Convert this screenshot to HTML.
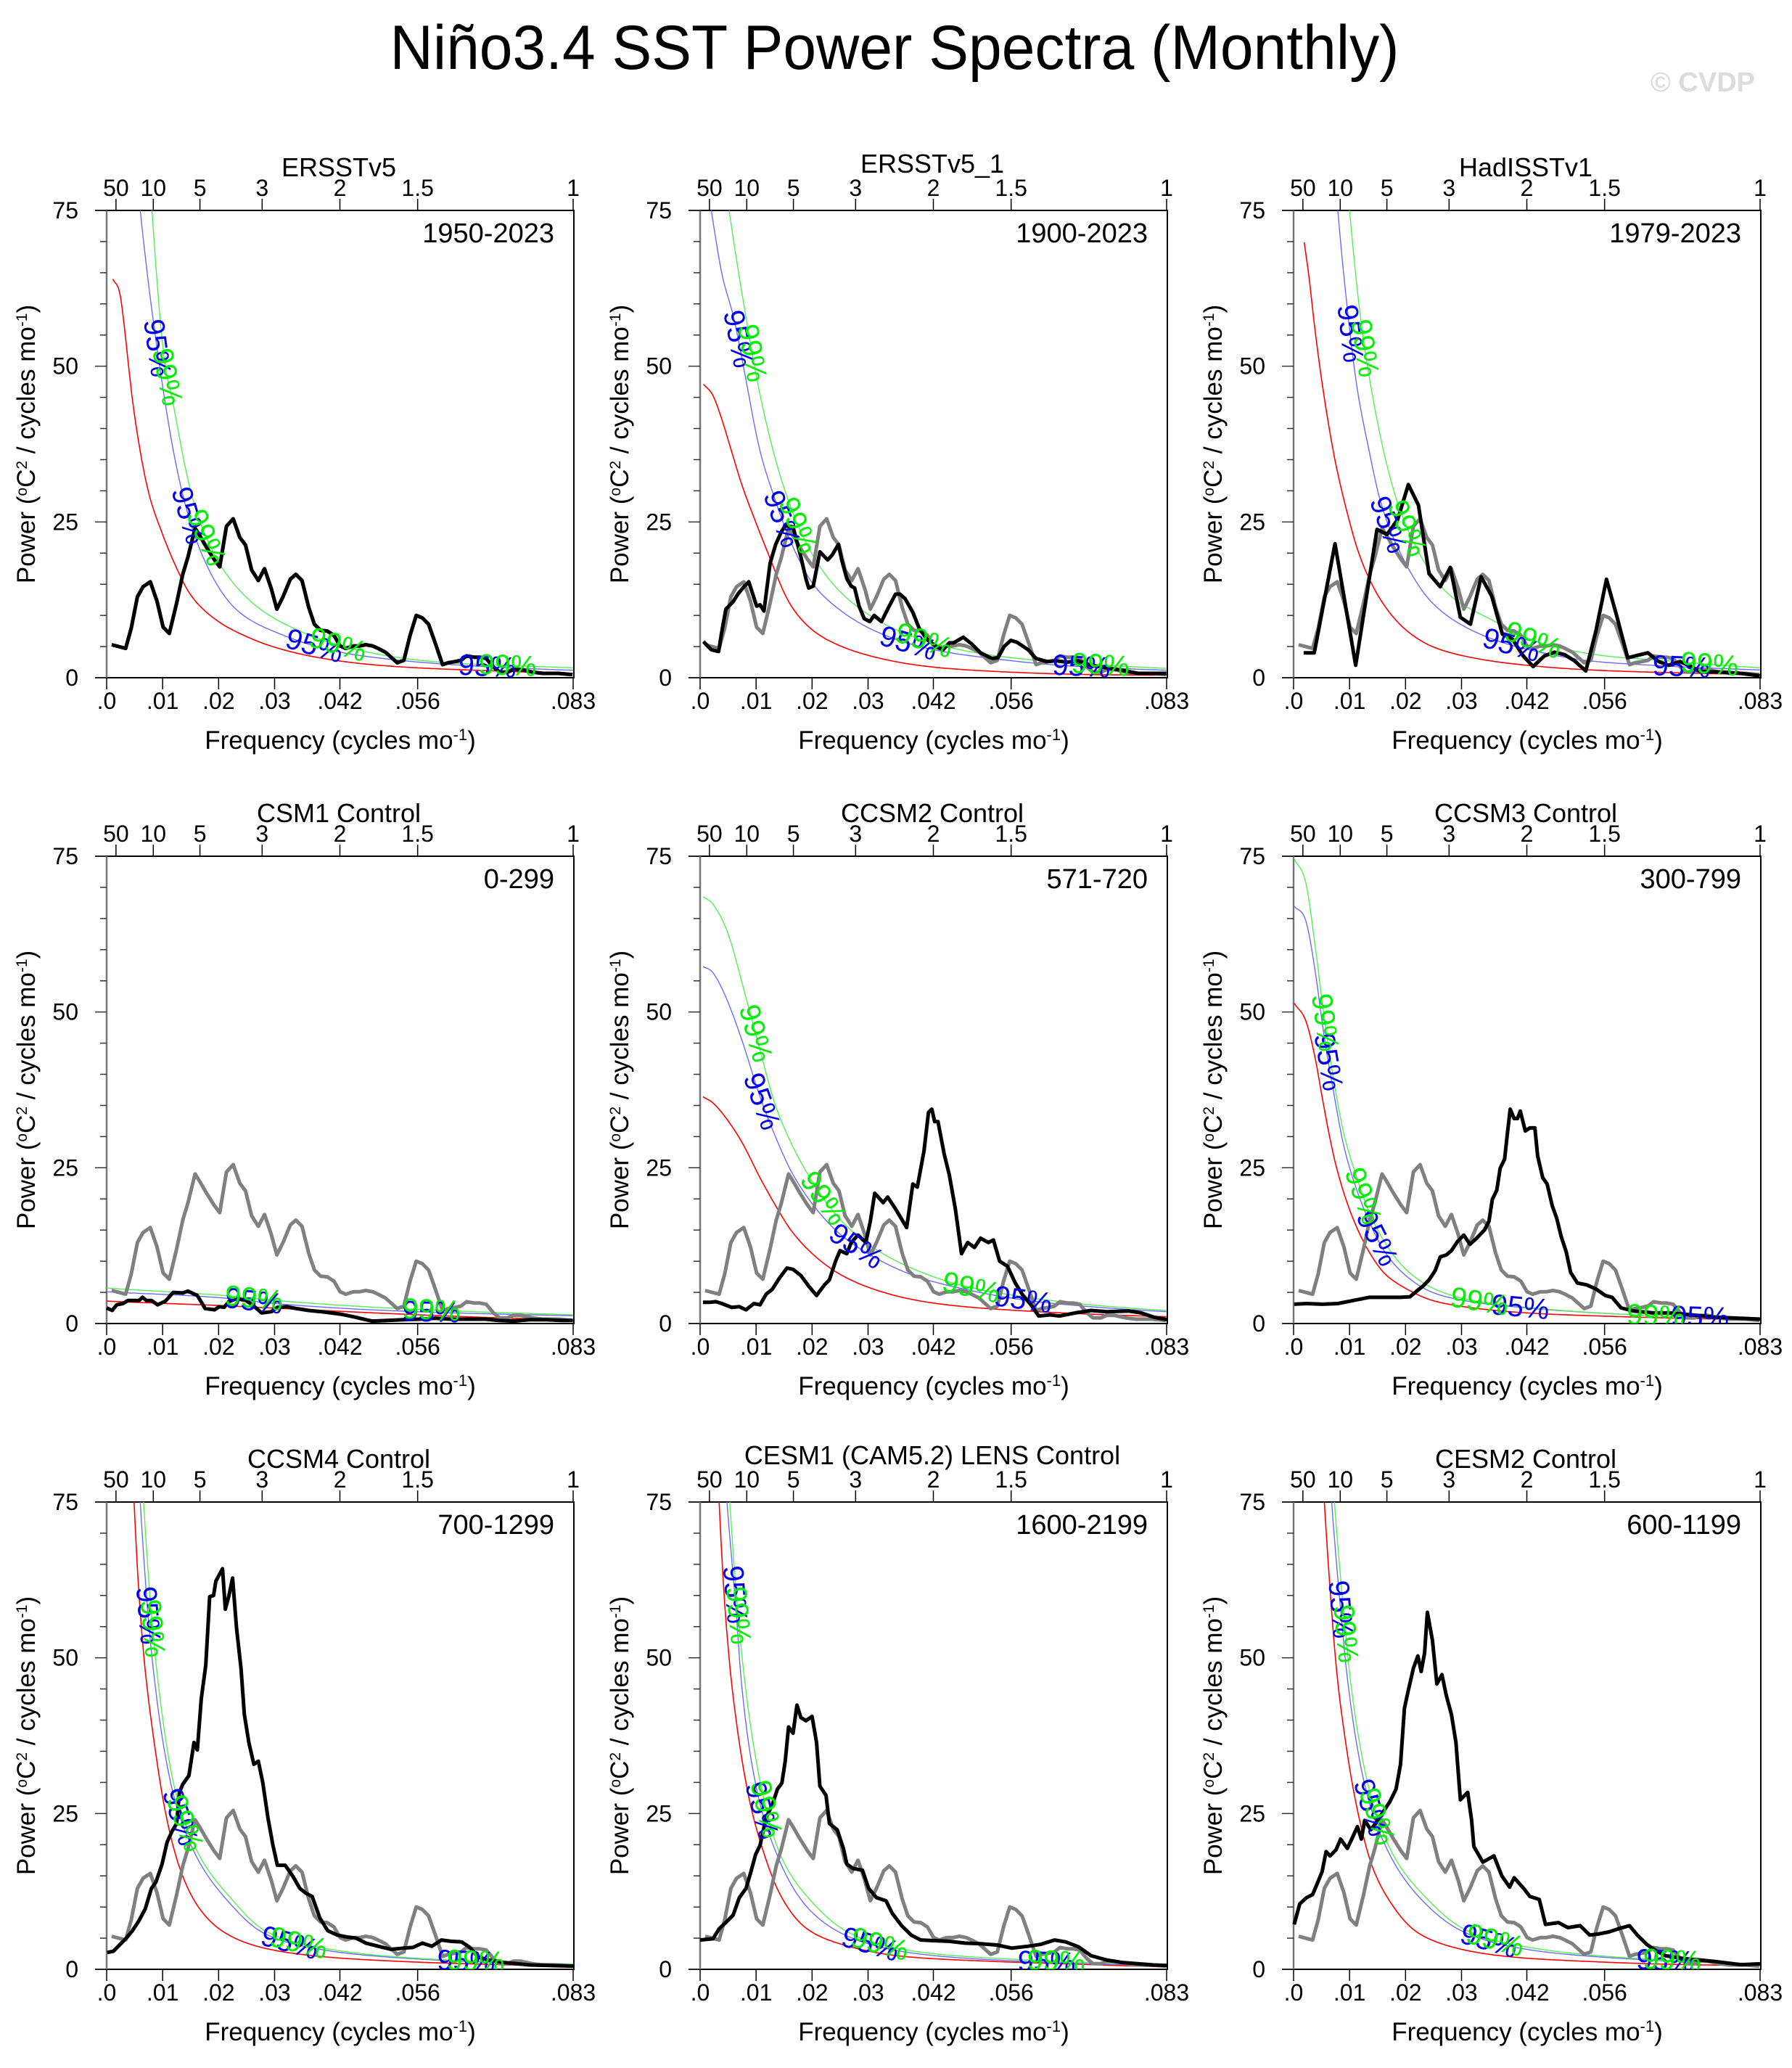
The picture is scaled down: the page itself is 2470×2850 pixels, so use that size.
<!DOCTYPE html>
<html><head><meta charset="utf-8"><title>Niño3.4 SST Power Spectra</title>
<style>html,body{margin:0;padding:0;background:#fff}svg{display:block;font-family:"Liberation Sans",Arial,sans-serif}</style>
</head><body>
<svg id="chart" width="2470" height="2850" viewBox="0 0 2470 2850" xmlns="http://www.w3.org/2000/svg">
<rect x="0" y="0" width="2470" height="2850" fill="#fff"/>
<text x="1233" y="95" font-size="86" text-anchor="middle" textLength="1391" lengthAdjust="spacingAndGlyphs" fill="#000">Niño3.4 SST Power Spectra (Monthly)</text>
<text x="2419" y="126" font-size="38" font-weight="bold" text-anchor="end" fill="#dcdcdc">© CVDP</text>
</svg>
<script>
// ---- Observed ERSSTv5 (gray reference, also panel 1 black) ----
const obsFreq = [.0009,.0034,.0044,.0055,.0065,.0078,.0090,.0101,.0112,.0125,.0136,.0145,.0158,.0167,.0178,.0192,.0202,.0214,.0226,.0238,.0248,.0259,.0271,.0282,.0294,.0304,.0315,.0328,.0338,.0349,.0361,.0371,.0382,.0394,.0406,.0417,.0427,.0441,.0452,.0463,.0475,.0485,.0498,.0508,.0519,.0531,.0542,.0553,.0564,.0575,.0588,.0600,.0610,.0623,.0633,.0643,.0656,.0666,.0678,.0691,.0702,.0716,.0726,.0740,.0761,.0779,.0807,.0832];
const obsPow = [5.3,4.7,8.0,13.0,14.6,15.4,12.3,8.1,7.1,12.0,16.6,19.3,24.0,22.7,21.0,19.0,17.8,24.3,25.5,22.5,21.3,17.3,15.6,17.5,14.3,11.0,13.0,15.8,16.6,15.6,11.3,8.6,7.6,7.5,6.8,5.1,4.7,5.1,5.1,5.3,5.1,4.7,4.1,3.3,2.4,2.8,6.8,10.0,9.6,8.6,5.3,2.1,2.4,2.6,2.8,3.5,3.3,3.3,3.1,1.7,0.9,0.9,1.3,1.3,0.9,0.7,0.7,0.5];
const p1RedF = [.0011,.0025,.005,.0075,.01,.0125,.015,.02,.025,.03,.04,.05,.06,.07,.0833];
const p1Red = [64,61,42,29.7,23,17.6,13.3,9,6.6,4.9,2.9,1.9,1.4,1.07,0.7];
const p1BlueF = [.006,.0094,.0139,.0174,.0231,.0322,.0406,.0512,.0653,.0833];
const p1Blue = [75,50.4,28.3,19,11,6.6,4.3,2.9,1.9,1.2];
const p1GreenF = [.0081,.0104,.0118,.0157,.0202,.0266,.035,.0456,.0582,.0833];
const p1Green = [75,50.4,44.4,27.7,18.3,11.6,7.3,4.3,2.6,1.6];

// ---- Panel 2 ERSSTv5_1 ----
const p2Freq = [.0006,.002,.0033,.0038,.0046,.0059,.0068,.0079,.0087,.0101,.0107,.0114,.0125,.0135,.0145,.0152,.0166,.018,.0189,.0194,.0202,.0214,.0228,.0236,.0247,.0253,.0262,.027,.0276,.0284,.0293,.0303,.0311,.0324,.0335,.0349,.0357,.0366,.038,.0391,.0405,.0422,.0434,.0445,.0453,.047,.0484,.0501,.0521,.0532,.0543,.0555,.0566,.0586,.06,.0619,.0636,.0656,.0675,.0698,.0726,.0754,.0782,.0833];
const p2Pow = [5.8,4.5,4.2,7.0,11.0,12.2,13.5,14.7,15.4,11.5,11.7,10.7,18.4,21.4,23.4,24.4,24.2,19.4,15.9,14.4,14.7,20.2,18.9,19.7,21.4,18.9,15.9,14.7,14.4,11.5,9.5,9.0,10.0,9.0,11.0,13.4,13.4,12.7,10.5,8.0,6.2,5.0,4.5,5.6,5.6,6.5,5.5,4.0,3.1,3.2,5.0,6.0,5.7,4.5,3.1,2.6,2.7,2.5,2.7,2.0,1.6,1.2,0.7,0.7];
const p2RedF = [.0006,.0023,.0039,.0056,.0073,.0104,.0127,.0163,.0203,.0248,.0304,.0417,.053,.07,.0833];
const p2Red = [47.1,45.3,41.4,36.4,31.4,23.9,18.7,11.5,7.5,5.2,3.5,1.7,1.0,0.5,0.4];
const p2BlueF = [.002,.0039,.0062,.0084,.0107,.0132,.0169,.0203,.0248,.032,.0417,.053,.0642,.0833];
const p2Blue = [75,64.8,57,46.8,36.4,29.1,20.4,14.9,11,7.2,4.5,3.0,2.0,1.2];
const p2GreenF = [.0052,.0084,.0104,.0155,.0203,.0248,.0332,.0417,.053,.0642,.0833];
const p2Green = [75,56.8,46.8,29.1,19.4,14,8.5,5.5,3.5,2.5,1.5];

// ---- Panel 3 HadISSTv1 ----
const p3Freq = [.0018,.0037,.0074,.0111,.0149,.0167,.0186,.0205,.0223,.0242,.0262,.028,.0298,.0316,.0335,.0354,.0373,.0391,.041,.0428,.0448,.0466,.0484,.0502,.0522,.054,.0559,.0577,.0597,.0615,.0633,.0652,.067,.069,.0708,.0726,.0766,.0799,.0833];
const p3Pow = [4.0,4.0,21.5,2.0,23.8,23.0,25.4,31.0,27.7,16.7,14.6,17.7,9.7,8.6,16.2,13.1,7.0,6.2,3.5,1.8,3.5,4.1,3.7,2.7,1.1,7.5,15.8,10.0,3.2,3.6,4.0,2.6,2.0,2.6,1.9,1.0,0.9,0.7,0.3];
const p3RedF = [.0019,.0028,.0039,.0056,.0073,.0096,.0115,.0135,.0163,.0203,.0248,.0332,.0428,.053,.07,.0833];
const p3Red = [69.9,64,55.3,44.3,35.4,26.4,20.4,15.9,11.5,7.5,5.0,3.0,1.9,1.25,0.75,0.5];
const p3BlueF = [.0079,.0099,.0113,.0135,.0155,.0203,.0248,.0341,.0445,.053,.064,.0833];
const p3Blue = [75,56.8,46.8,36.4,28.4,17.9,12,6.7,4.0,2.7,2.0,1.25];
const p3GreenF = [.01,.0121,.0138,.0183,.0228,.0276,.036,.0445,.0557,.067,.0833];
const p3Green = [75,56.8,46.8,28.9,19.4,13.5,9.0,5.5,3.5,2.7,1.6];

// ---- Panel 4 CSM1 Control ----
const p4Freq = [0,.001,.0018,.0029,.0038,.0058,.0064,.0071,.008,.0091,.0105,.0119,.0136,.0145,.0162,.0176,.0193,.0201,.021,.0218,.0232,.0249,.026,.0277,.0294,.0305,.0322,.0339,.0361,.0384,.0401,.0418,.044,.0474,.0502,.053,.0559,.0587,.0615,.0643,.0677,.07,.0728,.0756,.0784,.0812,.0833];
const p4Pow = [2.5,2.1,3.0,3.2,3.7,3.7,4.2,3.7,3.7,3.0,3.6,5.0,4.9,5.2,4.5,2.4,2.2,2.7,2.6,3.5,4.0,3.7,3.0,1.7,1.9,2.6,2.7,2.4,2.1,1.9,1.7,1.5,1.1,0.4,0.5,0.6,0.7,0.85,0.7,0.7,0.7,0.5,0.4,0.6,0.6,0.5,0.5];
const p4RedF = [0,.0248,.053,.0833];
const p4Red = [3.6,2.7,1.5,0.6];
const p4BlueF = [0,.0208,.0315,.0524,.0833];
const p4Blue = [5.1,4.1,3.1,2.0,1.25];
const p4GreenF = [0,.0208,.0315,.0524,.0833];
const p4Green = [5.7,4.5,3.6,2.4,1.4];

// ---- Panel 5 CCSM2 Control ----
const p5Freq = [.0005,.0017,.0028,.0039,.0056,.007,.0082,.0096,.0107,.0118,.0129,.0141,.0155,.0166,.018,.0194,.0208,.0222,.0231,.0242,.025,.0262,.027,.0282,.0296,.0304,.0312,.0327,.0335,.0349,.0369,.038,.0388,.04,.0408,.0414,.0419,.0425,.0436,.0445,.0456,.0467,.0478,.049,.0501,.0515,.0524,.0535,.0549,.0563,.0577,.0591,.0605,.0625,.0642,.067,.0698,.0726,.0766,.0788,.0811,.0836];
const p5Pow = [3.4,3.4,3.5,3.2,2.6,2.7,2.2,3.2,3.0,4.7,5.5,7.2,8.9,8.7,7.7,6.0,4.5,6.2,7.0,10.0,11.7,11.2,13.0,14.2,13.0,16.4,20.9,19.4,20.3,18.4,15.4,22.4,21.9,27.7,33.9,34.4,32.4,32.4,27.2,23.9,18.4,11.2,13.0,12.2,13.7,13.0,13.4,10.0,9.2,6.5,4.5,3.0,1.2,1.4,1.2,1.7,2.1,1.9,2.0,1.7,1.0,0.6];
const p5RedF = [.0005,.0023,.0051,.0079,.0107,.0135,.0163,.0203,.0248,.0304,.0388,.0473,.0585,.0698,.0833];
const p5Red = [36.4,35.4,32.4,28.4,23.4,18.9,14.9,11.0,8.0,5.7,3.7,2.7,2.0,1.5,1.1];
const p5BlueF = [.0005,.0023,.0051,.0079,.0107,.0135,.0163,.0203,.0248,.0304,.0388,.0473,.0585,.0698,.0833];
const p5Blue = [57.3,56.3,51.3,44.3,36.4,29.9,24.4,18.9,14.5,11.0,7.5,5.5,3.7,2.7,1.9];
const p5GreenF = [.0005,.0023,.0051,.0079,.0107,.0135,.0163,.0203,.0248,.0304,.0388,.0473,.0585,.0698,.0833];
const p5Green = [68.5,67.3,62.3,53.3,43.9,34.9,28.9,22.4,16.9,12.5,8.5,6.0,4.2,3.0,2.1];

// ---- Panel 6 CCSM3 Control ----
const p6Freq = [.0001,.0023,.0051,.0079,.0107,.0135,.0163,.0191,.0208,.022,.0231,.0242,.0253,.0262,.0273,.0282,.0293,.0304,.0315,.0327,.0341,.0349,.0355,.0363,.0369,.0377,.0382,.0387,.0394,.04,.0405,.0414,.0422,.0431,.0436,.0445,.0453,.0462,.047,.0478,.0487,.0495,.0507,.0524,.0541,.0557,.0569,.0585,.0608,.0642,.067,.0698,.0754,.0836];
const p6Pow = [3.1,3.2,3.1,3.2,3.7,4.2,4.2,4.2,4.3,5.2,6.0,7.0,8.5,10.7,11.0,11.7,13.2,14.2,12.7,13.7,15.0,16.4,19.9,21.4,24.9,26.4,30.6,34.4,32.9,32.9,34.1,30.9,31.4,31.4,26.9,23.4,22.4,18.9,16.9,14.0,11.5,8.2,6.5,6.2,5.5,4.5,4.2,2.5,2.0,1.7,1.7,1.5,1.0,0.7];
const p6RedF = [.0001,.0023,.0039,.0056,.0073,.009,.0113,.0135,.0163,.0203,.0248,.0304,.0417,.0585,.0833];
const p6Red = [51.4,48.3,42.4,33.9,26.4,20.9,15.4,11.5,8.0,5.5,3.7,2.7,1.7,1.1,0.6];
const p6BlueF = [.0001,.0023,.0039,.0056,.0073,.009,.0113,.0135,.0163,.0203,.0248,.0304,.0417,.0585,.0833];
const p6Blue = [67,64.3,56.3,45.3,36.4,28.4,21.4,16.4,11.5,7.5,5.0,3.7,2.5,1.5,0.75];
const p6GreenF = [.0001,.0023,.0039,.0056,.0073,.009,.0113,.0135,.0163,.0203,.0248,.0304,.0417,.0585,.0833];
const p6Green = [74.6,70.3,60.3,48.3,38.4,30.4,23.4,17.9,13.0,8.5,5.7,4.0,2.6,1.5,0.75];

// ---- Panel 7 CCSM4 Control ----
const p7Freq = [.0001,.0012,.0024,.0035,.0046,.0057,.0069,.008,.0088,.0099,.0108,.0117,.0125,.013,.0136,.0147,.0156,.0162,.0169,.0177,.0184,.0191,.0195,.0201,.0207,.0212,.0218,.0225,.0232,.024,.0246,.0254,.0263,.0271,.0279,.0288,.0297,.0305,.0319,.0333,.0345,.0356,.0367,.0381,.0395,.0412,.0429,.0446,.0463,.0485,.0508,.053,.0547,.0564,.0581,.0598,.0615,.0634,.0649,.0663,.0682,.071,.0756,.0836];
const p7Pow = [2.7,2.9,4.0,5.0,6.2,7.7,9.7,13.0,14.0,16.9,20.4,22.2,23.4,28.4,29.7,31.1,36.4,35.2,43.4,48.8,59.8,60.0,62.3,63.3,64.3,57.8,59.8,62.8,54.8,48.3,40.9,36.4,32.9,33.4,29.9,24.4,19.9,16.7,16.7,14.9,13.0,12.2,11.7,8.2,6.2,5.5,5.2,5.0,4.2,3.7,3.2,3.4,3.5,4.2,3.7,4.7,4.5,4.4,3.5,2.0,1.5,1.1,0.7,0.5];
const p7RedF = [.0049,.0057,.0068,.0085,.0108,.013,.0164,.0209,.0277,.039,.053,.07,.0833];
const p7Red = [75,61.3,48.8,36.4,23.9,16.4,10.0,6.0,3.5,2.0,1.25,0.75,0.5];
const p7BlueF = [.006,.0074,.0085,.0117,.0156,.0221,.0283,.0395,.0587,.0833];
const p7Blue = [75,56.8,46.8,28.9,18.9,10.5,5.7,3.0,1.5,0.75];
const p7GreenF = [.0066,.008,.0091,.0122,.0162,.0226,.0287,.04,.0587,.0833];
const p7Green = [75,56.8,46.8,28.9,18.9,11,6.0,3.2,1.6,0.85];

// ---- Panel 8 CESM1 LENS Control ----
const p8Freq = [0,.0023,.0034,.0048,.0059,.007,.0082,.009,.0099,.0107,.0118,.0129,.0138,.0146,.0152,.0158,.0166,.0173,.018,.0189,.02,.0208,.0214,.0225,.0231,.0245,.0256,.0262,.0273,.029,.0301,.0315,.0332,.0343,.036,.0377,.0394,.0417,.0445,.0473,.0501,.053,.0557,.0586,.0608,.0633,.0653,.0676,.0698,.0726,.0754,.081,.0836];
const p8Pow = [4.7,4.9,6.5,7.7,8.7,11.5,13.0,15.4,18.4,19.9,24.4,26.4,28.9,29.9,33.4,38.9,37.9,42.4,40.4,39.9,40.6,36.4,29.4,27.9,23.4,22.4,19.4,16.9,16.2,15.9,13.0,11.5,11.0,9.0,7.0,5.5,4.7,4.6,4.5,4.2,4.1,3.9,3.4,3.7,4.0,4.7,4.4,3.6,2.2,1.5,1.1,0.7,0.6];
const p8RedF = [.0034,.0042,.0053,.007,.009,.0113,.0146,.0191,.0265,.036,.053,.07,.0833];
const p8Red = [75,61.3,48.8,36.4,26.4,18.9,11.5,6.5,3.7,2.1,1.25,0.75,0.4];
const p8BlueF = [.0048,.0065,.0073,.0101,.0135,.0191,.0259,.0372,.0586,.0833];
const p8Blue = [75,56.8,46.8,28.9,18.9,10.0,5.5,2.7,1.25,0.6];
const p8GreenF = [.0053,.0068,.0079,.011,.0141,.0203,.027,.0383,.0586,.0833];
const p8Green = [75,56.8,46.8,28.9,18.9,10.5,5.7,2.9,1.5,0.75];

// ---- Panel 9 CESM2 Control ----
const p9Freq = [.0001,.0011,.0023,.0034,.0042,.0051,.0058,.0065,.0076,.0084,.0096,.0104,.0114,.0121,.0127,.0138,.0146,.0161,.0172,.0183,.0191,.0198,.0205,.0214,.0222,.0228,.0234,.0239,.0248,.0256,.0265,.0273,.0282,.029,.0298,.0311,.0318,.0322,.0338,.0358,.0372,.0386,.0394,.0411,.0422,.0439,.045,.0473,.049,.0512,.0529,.0546,.0563,.058,.06,.0614,.0631,.0647,.0664,.0698,.0726,.0754,.0799,.0836];
const p9Pow = [7.2,10.5,11.5,12.0,13.7,15.7,18.9,18.2,19.2,20.9,19.4,20.9,22.9,20.9,23.9,22.4,23.4,25.4,26.9,28.9,32.9,41.9,44.8,48.3,50.3,47.8,50.8,57.3,52.8,45.8,47.3,43.9,40.9,36.4,27.2,28.4,23.9,19.7,17.2,18.2,15.0,13.2,14.7,13.0,11.7,11.2,7.2,7.5,6.7,7.0,5.5,5.7,6.0,6.5,7.0,5.5,4.0,3.0,2.2,1.7,1.5,1.25,0.75,0.9];
const p9RedF = [.0055,.0065,.0076,.0093,.0118,.0141,.0175,.022,.0287,.0388,.053,.07,.0833];
const p9Red = [75,61.3,48.8,36.4,23.9,16.4,10.5,6.0,3.5,2.0,1.25,0.75,0.6];
const p9BlueF = [.0068,.0085,.0096,.0129,.0169,.0236,.0304,.0417,.0586,.0833];
const p9Blue = [75,56.8,46.8,28.9,18.9,10.5,6.0,3.2,1.75,0.85];
const p9GreenF = [.0073,.009,.0101,.0135,.0175,.0242,.031,.0422,.0586,.0833];
const p9Green = [75,56.8,46.8,28.9,18.9,11,6.2,3.5,1.9,0.9];

// ---- Axis tick definitions ----
const yTicks = [0,25,50,75];
const xTickVals = [0,0.01,0.02,0.03,1/24,1/18,1/12];
const xTickLabels = [".0",".01",".02",".03",".042",".056",".083"];
const periodTicks = [50,10,5,3,2,1.5,1];
const periodLabels = ["50","10","5","3","2","1.5","1"];

const panels = [
 {title:"ERSSTv5", years:"1950-2023", f:obsFreq, p:obsPow, rf:p1RedF, r:p1Red, bf:p1BlueF, b:p1Blue, gf:p1GreenF, g:p1Green, lb:[.009,.0146,.0371,.068], lg:[.0108,.0178,.0413,.0716]},
 {title:"ERSSTv5_1", years:"1900-2023", f:p2Freq, p:p2Pow, rf:p2RedF, r:p2Red, bf:p2BlueF, b:p2Blue, gf:p2GreenF, g:p2Green, lb:[.0068,.0146,.0372,.0681], lg:[.0093,.0175,.04,.0715], up:5},
 {title:"HadISSTv1", years:"1979-2023", f:p3Freq, p:p3Pow, rf:p3RedF, r:p3Red, bf:p3BlueF, b:p3Blue, gf:p3GreenF, g:p3Green, lb:[.0101,.0169,.0389,.0693], lg:[.0127,.0203,.0428,.0743]},
 {title:"CSM1 Control", years:"0-299", f:p4Freq, p:p4Pow, rf:p4RedF, r:p4Red, bf:p4BlueF, b:p4Blue, gf:p4GreenF, g:p4Green, lb:[.0263,.058], lg:[.0263,.058]},
 {title:"CCSM2 Control", years:"571-720", f:p5Freq, p:p5Pow, rf:p5RedF, r:p5Red, bf:p5BlueF, b:p5Blue, gf:p5GreenF, g:p5Green, lb:[.011,.0279,.0577], lg:[.0099,.022,.0484]},
 {title:"CCSM3 Control", years:"300-799", f:p6Freq, p:p6Pow, rf:p6RedF, r:p6Red, bf:p6BlueF, b:p6Blue, gf:p6GreenF, g:p6Green, lb:[.0062,.0149,.0405,.0726], lg:[.0056,.0124,.0332,.0647]},
 {title:"CCSM4 Control", years:"700-1299", f:p7Freq, p:p7Pow, rf:p7RedF, r:p7Red, bf:p7BlueF, b:p7Blue, gf:p7GreenF, g:p7Green, lb:[.0074,.0131,.0327,.0642], lg:[.0082,.014,.0343,.0659]},
 {title:"CESM1 (CAM5.2) LENS Control", years:"1600-2199", f:p8Freq, p:p8Pow, rf:p8RedF, r:p8Red, bf:p8BlueF, b:p8Blue, gf:p8GreenF, g:p8Green, lb:[.0062,.011,.0304,.0619], lg:[.0068,.0118,.0321,.0636], up:5},
 {title:"CESM2 Control", years:"600-1199", f:p9Freq, p:p9Pow, rf:p9RedF, r:p9Red, bf:p9BlueF, b:p9Blue, gf:p9GreenF, g:p9Green, lb:[.0084,.0138,.0349,.0664], lg:[.0093,.0149,.036,.0676]}
];

const NS = "http://www.w3.org/2000/svg";
const svg = document.getElementById("chart");
const W = 660, H = 644, XMAX = 1/12, YMAX = 75;
function mk(tag, attrs, parent){ const e=document.createElementNS(NS,tag); for(const k in attrs) e.setAttribute(k,attrs[k]); (parent||svg).appendChild(e); return e; }

// monotone cubic interpolation in log space
function smoothFn(F, V){
  const n=Math.min(F.length,V.length); const x=F.slice(0,n), y=V.slice(0,n).map(v=>Math.log(Math.max(v,0.01)));
  const d=[], m=new Array(n);
  for(let i=0;i<n-1;i++) d.push((y[i+1]-y[i])/(x[i+1]-x[i]));
  m[0]=d[0]; m[n-1]=d[n-2];
  for(let i=1;i<n-1;i++){ m[i]=(d[i-1]*d[i]<=0)?0:(d[i-1]+d[i])/2; }
  for(let i=0;i<n-1;i++){ if(d[i]===0){m[i]=0;m[i+1]=0;continue;} const a=m[i]/d[i], b=m[i+1]/d[i], s=a*a+b*b; if(s>9){const t=3/Math.sqrt(s); m[i]=t*a*d[i]; m[i+1]=t*b*d[i];} }
  return function(f){
    if(f<=x[0]) return Math.exp(y[0]); if(f>=x[n-1]) return Math.exp(y[n-1]);
    let i=0; while(i<n-2 && f>x[i+1]) i++;
    const h=x[i+1]-x[i], t=(f-x[i])/h, t2=t*t, t3=t2*t;
    const v=(2*t3-3*t2+1)*y[i]+(t3-2*t2+t)*h*m[i]+(-2*t3+3*t2)*y[i+1]+(t3-t2)*h*m[i+1];
    return Math.exp(v);
  };
}

panels.forEach((P, idx) => {
  const col = idx % 3, row = Math.floor(idx / 3);
  const L = 131 + 818*col, T = 290 + 890*row;
  const X0 = L + 16;
  const xs = f => X0 + f / XMAX * 643;
  const ys = v => T + H - v / YMAX * H;
  const g = mk("g", {});
  
  

  const cp = mk("clipPath", {id:"clip"+idx}, g);
  mk("rect", {x:L, y:T, width:W, height:H}, cp);

  const fr = mk("path", {d:`M${L},${T}H${L+W}V${T+H}H${L}`, fill:"none", stroke:"#000", "stroke-width":2}, g);
  
  
  const ya = mk("line", {x1:X0, y1:T, x2:X0, y2:T+H, stroke:"#777", "stroke-width":2.5}, g);
  
  

  for(let v=0; v<=75; v+=5){
    const major = yTicks.indexOf(v) >= 0;
    const t = mk("line", {x1: major?L:X0-9, y1:ys(v), x2:X0, y2:ys(v), stroke:"#333", "stroke-width":1.5}, g);
    
    
  }
  yTicks.forEach(v => {
    const t = mk("text", {x:L-23, y:ys(v)+11, "font-size":32, "text-anchor":"end", fill:"#000"}, g);
    t.textContent = String(v);
    
    
  });
  xTickVals.forEach((f,i) => {
    const t = mk("line", {x1:xs(f), y1:T+H, x2:xs(f), y2:T+H+16, stroke:"#000", "stroke-width":1.5}, g);
    
    
    const lb = mk("text", {x:xs(f), y:T+H+43, "font-size":32, "text-anchor":"middle", fill:"#000"}, g);
    lb.textContent = xTickLabels[i];
    
    
  });
  periodTicks.forEach((p,i) => {
    const f = 1/(12*p);
    const t = mk("line", {x1:xs(f), y1:T-16, x2:xs(f), y2:T, stroke:"#000", "stroke-width":1.5}, g);
    
    
    const lb = mk("text", {x:xs(f), y:T-20, "font-size":32, "text-anchor":"middle", fill:"#000"}, g);
    lb.textContent = periodLabels[i];
    
    
  });

  const ti = mk("text", {x:L+336, y:T-47-(P.up||0), "font-size":36, "text-anchor":"middle", fill:"#000"}, g);
  ti.textContent = P.title;
  
  
  const yr = mk("text", {x:L+633, y:T+44, "font-size":38, "text-anchor":"end", fill:"#000"}, g);
  yr.textContent = P.years;
  
  
  const xt = mk("text", {x:L+338, y:T+742, "font-size":35, "text-anchor":"middle", fill:"#000"}, g);
  xt.innerHTML = 'Frequency (cycles mo<tspan baseline-shift="super" font-size="22">-1</tspan>)';
  
  
  const yt = mk("text", {x:0, y:0, "font-size":35, "text-anchor":"middle", fill:"#000", transform:`translate(${L-83},${T+322}) rotate(-90)`}, g);
  yt.innerHTML = 'Power (<tspan baseline-shift="super" font-size="21">o</tspan>C<tspan baseline-shift="super" font-size="21">2</tspan> / cycles mo<tspan baseline-shift="super" font-size="21">-1</tspan>)';
  
  

  const plot = mk("g", {"clip-path":`url(#clip${idx})`}, g);
  
  

  function smoothPath(F, V){
    const fn = smoothFn(F, V); const a=F[0], b=F[Math.min(F.length,V.length)-1];
    let d=""; const N=240;
    for(let k=0;k<=N;k++){ const f=a+(b-a)*k/N; const yv=Math.min(fn(f), 120); d += (k?"L":"M")+xs(f).toFixed(1)+","+ys(yv).toFixed(1); }
    return {d, fn};
  }
  function linePath(F, V){
    const n=Math.min(F.length,V.length); let d="";
    for(let k=0;k<n;k++) d += (k?"L":"M")+xs(F[k]).toFixed(1)+","+ys(V[k]).toFixed(1);
    return d;
  }
  const red = smoothPath(P.rf, P.r), blue = smoothPath(P.bf, P.b), green = smoothPath(P.gf, P.g);
  const rl = mk("path", {d:red.d, fill:"none", stroke:"#ff0000", "stroke-width":1.6}, plot);
  
  
  const bl = mk("path", {d:blue.d, fill:"none", stroke:"#6a6aff", "stroke-width":1.4}, plot);
  
  
  const gl = mk("path", {d:green.d, fill:"none", stroke:"#55ee55", "stroke-width":1.4}, plot);
  
  

  const gr = mk("path", {d:linePath(obsFreq, obsPow), fill:"none", stroke:"#808080", "stroke-width":5, "stroke-linejoin":"round"}, plot);
  
  
  const bk = mk("path", {d:linePath(P.f, P.p), fill:"none", stroke:"#000", "stroke-width":5, "stroke-linejoin":"round"}, plot);
  
  

  function addLabels(fs, fn, txt, color, nm){
    fs.forEach(f => {
      const v = fn(f); if (v > 74) return;
      const x1 = xs(f-0.0004), y1 = ys(fn(f-0.0004)), x2 = xs(f+0.0004), y2 = ys(fn(f+0.0004));
      const ang = Math.atan2(y2-y1, x2-x1) * 180 / Math.PI;
      const t = mk("text", {x:0, y:0, "font-size":40, "text-anchor":"middle", "dominant-baseline":"central", fill:color, transform:`translate(${xs(f).toFixed(1)},${ys(v).toFixed(1)}) rotate(${ang.toFixed(1)})`}, plot);
      t.textContent = txt;
      
      
    });
  }
  addLabels(P.lb, blue.fn, "95%", "#0000ee", 'label-95-percent');
  addLabels(P.lg, green.fn, "99%", "#00ee00", 'label-99-percent');
});
</script>
</body></html>
